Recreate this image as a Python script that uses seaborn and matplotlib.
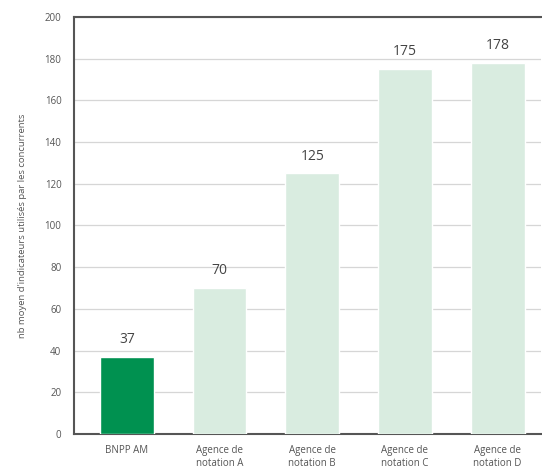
import matplotlib
matplotlib.use("Agg")
import matplotlib.pyplot as plt
import seaborn as sns
import pandas as pd

categories = ["BNPP AM", "Agence de\nnotation A", "Agence de\nnotation B",
              "Agence de\nnotation C", "Agence de\nnotation D"]
values = [37, 70, 125, 175, 178]
colors = ["#009150", "#d9ece0", "#d9ece0", "#d9ece0", "#d9ece0"]
yticks = [0, 20, 40, 60, 80, 100, 120, 140, 160, 180, 200]
ylabel = "nb moyen d'indicateurs utilisés par les concurrents"

sns.set_style("white")
plt.rcParams['font.family'] = ['Open Sans', 'DejaVu Sans']

df = pd.DataFrame({"cat": categories, "val": values})

fig = plt.figure(figsize=(5.42, 4.72), dpi=100)
ax = fig.add_axes([0.1365, 0.0805, 0.862, 0.8835])

sns.barplot(data=df, x="cat", y="val", hue="cat", palette=colors,
            legend=False, width=0.58, ax=ax, saturation=1, zorder=3)

ax.set_ylim(0, 200)
ax.set_xlim(-0.57, 4.47)
ax.set_yticks(yticks)
ax.yaxis.grid(True, color="#d6d6d6", linewidth=0.9, zorder=0)
ax.set_axisbelow(True)

for sp in ["left", "top", "bottom"]:
    ax.spines[sp].set_color("#555555")
    ax.spines[sp].set_linewidth(1.5)
ax.spines["right"].set_visible(False)

ax.tick_params(axis="y", length=0, labelsize=7, labelcolor="#555555", pad=9)
ax.tick_params(axis="x", length=0, labelsize=7, labelcolor="#555555", pad=8)
ax.set_xlabel("")
ax.set_ylabel(ylabel, fontsize=6.8, color="#555555", labelpad=13)

for i, v in enumerate(values):
    ax.annotate(str(v), (i, v), xytext=(0, 7), textcoords="offset points",
                ha="center", va="bottom", fontsize=10, color="#444444")

fig.savefig("out.png", dpi=100)
